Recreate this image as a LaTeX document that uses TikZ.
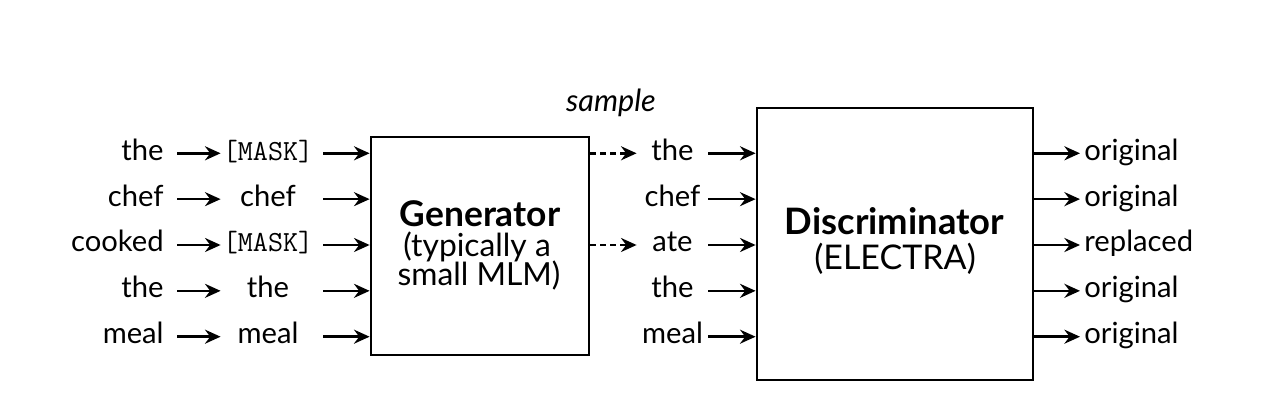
\documentclass[tikz,border=0pt]{standalone}
\usepackage{fontspec}
\setmainfont{Lato}
\setmonofont{Latin Modern Mono}
\usetikzlibrary{arrows.meta}
\begin{document}
\begin{tikzpicture}[x=0.5pt,y=-0.5pt,
  font=\fontsize{14.6}{16}\selectfont,
  word/.style={text height=0.95em, text depth=0.25em, inner ysep=0pt},
  lword/.style={word, anchor=east, inner xsep=6.5pt},
  mword/.style={word, minimum width=47pt, inner xsep=0pt},
  rword/.style={word, minimum width=35.5pt, inner xsep=0pt},
  oword/.style={word, anchor=west, inner xsep=2pt},
  arr/.style={-{Stealth[length=7.8pt,width=7pt,inset=2.6pt]}, line width=1.3pt},
  box/.style={draw, line width=1.4pt, inner sep=0pt},
  btext/.style={anchor=base, inner sep=0pt}
]
\useasboundingbox (0,0) rectangle (1264,410);

\node[box, minimum width=109pt, minimum height=109pt] (gen) at (480,246) {};
\node[box, minimum width=138pt, minimum height=136pt] (disc) at (895,244) {};

\node[btext, font=\fontsize{17.7}{18}\selectfont\bfseries] (g1) at (480,227) {Generator};
\node[btext, font=\fontsize{15.9}{18}\selectfont] (g2) at (477,256.5) {(typically a};
\node[btext, font=\fontsize{15.9}{18}\selectfont] (g3) at (479,286) {small MLM)};
\node[btext, font=\fontsize{18.2}{18}\selectfont\bfseries] (d1) at (894.5,235) {Discriminator};
\node[btext, font=\fontsize{17}{18}\selectfont] (d2) at (895,270) {(ELECTRA)};

\node[btext, font=\fontsize{15.3}{16}\selectfont\itshape] (smp) at (611,112) {sample};

\foreach \i/\a/\b/\c/\d in {1/the/{\texttt{[MASK]}}/the/original,
                           2/chef/chef/chef/original,
                           3/cooked/{\texttt{[MASK]}}/ate/replaced,
                           4/the/the/the/original,
                           5/meal/meal/meal/original}{
  \pgfmathsetmacro\yy{153.3+45.85*(\i-1)}
  \node[lword] (lw\i) at (177,\yy) {\a};
  \node[mword] (mw\i) at (268,\yy) {\b};
  \node[rword] (rw\i) at (672.5,\yy) {\c};
  \node[oword] (ow\i) at (1080,\yy) {\d};
  \draw[arr] (lw\i.east) -- (mw\i.west);
  \draw[arr, shorten <=4pt] (mw\i.east) -- (mw\i -| gen.west);
  \draw[arr] (rw\i.east) -- (rw\i -| disc.west);
  \draw[arr] (ow\i -| disc.east) -- (ow\i.west);
}
\draw[arr, dash pattern=on 3pt off 2pt] (rw1 -| gen.east) -- (rw1.west);
\draw[arr, dash pattern=on 3pt off 2pt] (rw3 -| gen.east) -- (rw3.west);
\end{tikzpicture}
\end{document}
